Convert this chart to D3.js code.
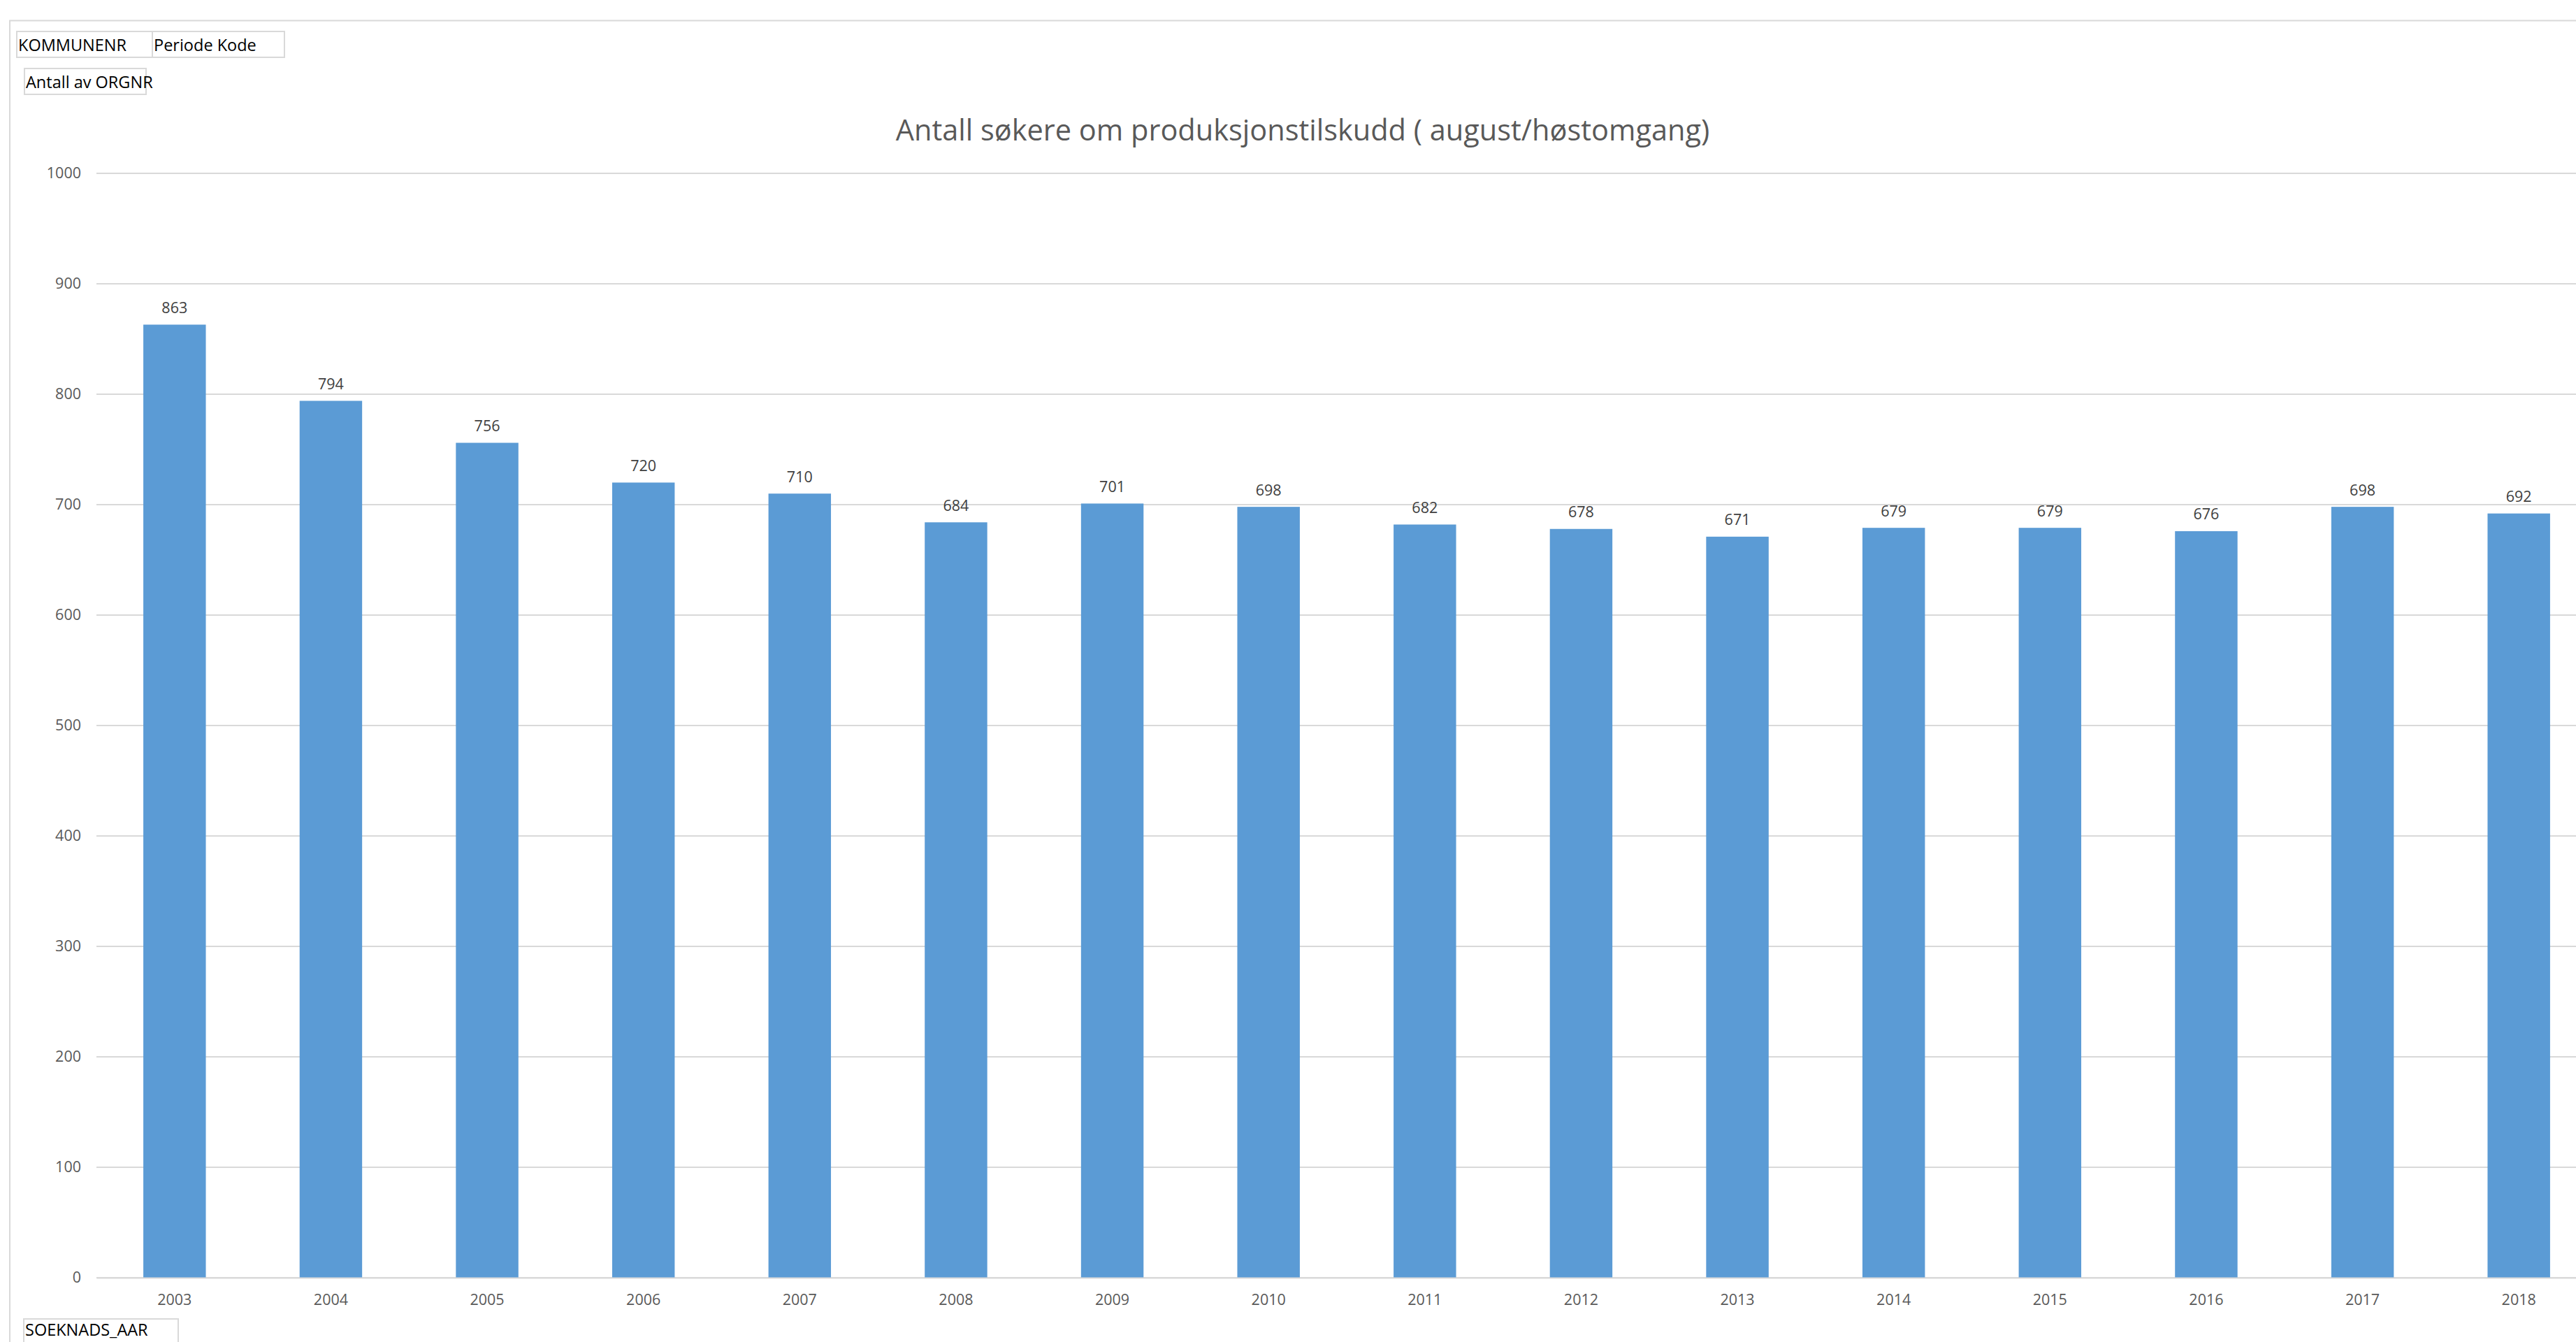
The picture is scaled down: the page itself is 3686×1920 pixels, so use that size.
<!DOCTYPE html>
<html>
<head>
<meta charset="utf-8">
<script src="https://cdn.jsdelivr.net/npm/d3@7"></script>
<style>
  html, body { margin: 0; padding: 0; background: #ffffff; overflow: hidden; }
  svg { display: block; }
</style>
</head>
<body>
<script>
const years = ["2003","2004","2005","2006","2007","2008","2009","2010","2011","2012","2013","2014","2015","2016","2017","2018"];
const values = [863, 794, 756, 720, 710, 684, 701, 698, 682, 678, 671, 679, 679, 676, 698, 692];
const yTicks = [0, 100, 200, 300, 400, 500, 600, 700, 800, 900, 1000];
const titleText = "Antall søkere om produksjonstilskudd ( august/høstomgang)";
const fieldButtons = ["KOMMUNENR", "Periode Kode"];
const valueButton = "Antall av ORGNR";
const axisButton = "SOEKNADS_AAR";

const W = 3686, H = 1920;
const FONT = "'Open Sans', 'Noto Sans', sans-serif";

const svg = d3.select("body").append("svg")
  .attr("width", W).attr("height", H);

svg.append("rect").attr("width", W).attr("height", H).attr("fill", "#ffffff");

// chart frame
svg.append("rect")
  .attr("x", 14).attr("y", 29.5)
  .attr("width", 3700).attr("height", 1950)
  .attr("fill", "none").attr("stroke", "#d9d9d9").attr("stroke-width", 2);

const x = d3.scaleBand().domain(years).range([138, 3716])
  .paddingInner(0.6).paddingOuter(0.3);
const y = d3.scaleLinear().domain([0, 1000]).range([1828, 248]);

// gridlines
svg.append("g").selectAll("line").data(yTicks).join("line")
  .attr("x1", 138).attr("x2", 3716)
  .attr("y1", d => y(d)).attr("y2", d => y(d))
  .attr("stroke", "#d9d9d9").attr("stroke-width", 2);

// y axis labels
const yAxis = d3.axisLeft(y).tickValues(yTicks).tickSize(0).tickPadding(22).tickFormat(d3.format("d"));
const yg = svg.append("g").attr("transform", "translate(138,0)").call(yAxis);
yg.select(".domain").remove();
yg.selectAll("text").attr("font-family", FONT).attr("font-size", 21.5).attr("fill", "#595959");

// bars
svg.append("g").selectAll("rect").data(values).join("rect")
  .attr("x", (d, i) => x(years[i]))
  .attr("width", x.bandwidth())
  .attr("y", d => y(d))
  .attr("height", d => y(0) - y(d))
  .attr("fill", "#5b9bd5");

// x axis
const xAxis = d3.axisBottom(x).tickSize(0).tickPadding(24);
const xg = svg.append("g").attr("transform", "translate(0,1828)").call(xAxis);
xg.select(".domain").attr("stroke", "#d9d9d9").attr("stroke-width", 2);
xg.selectAll("text").attr("font-family", FONT).attr("font-size", 21.5).attr("fill", "#595959");

// data labels
svg.append("g").selectAll("text").data(values).join("text")
  .attr("x", (d, i) => x(years[i]) + x.bandwidth() / 2)
  .attr("y", d => y(d) - 16.5)
  .attr("text-anchor", "middle")
  .attr("font-family", FONT).attr("font-size", 21.5).attr("fill", "#404040")
  .text(d => d);

// title
svg.append("text")
  .attr("x", 1864).attr("y", 201)
  .attr("text-anchor", "middle")
  .attr("font-family", FONT).attr("font-size", 41.5).attr("fill", "#595959")
  .text(titleText);

// field buttons
function button(x0, y0, w, h, label, baseline) {
  svg.append("rect").attr("x", x0).attr("y", y0).attr("width", w).attr("height", h)
    .attr("fill", "#ffffff").attr("stroke", "#d9d9d9").attr("stroke-width", 2);
  svg.append("text").attr("x", x0 + 2).attr("y", baseline)
    .attr("font-family", FONT).attr("font-size", 23.5).attr("fill", "#000000")
    .text(label);
}
button(24, 45, 194, 37, fieldButtons[0], 72.7);
button(218, 45, 189, 37, fieldButtons[1], 72.7);
button(35, 98, 174, 37, valueButton, 126);
button(34, 1887, 221, 50, axisButton, 1911);
</script>
</body>
</html>
